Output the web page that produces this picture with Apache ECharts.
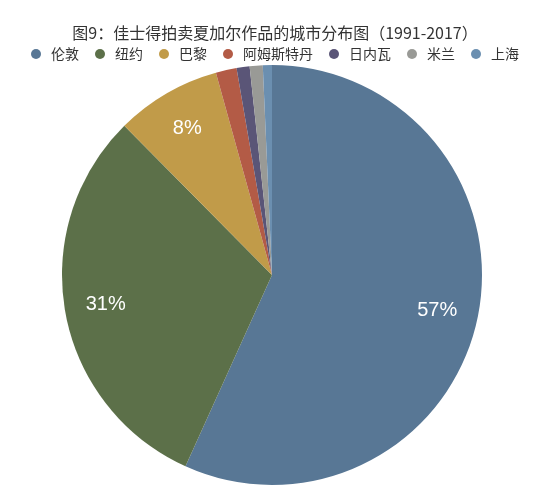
<!DOCTYPE html>
<html>
<head>
<meta charset="utf-8">
<script src="https://cdn.jsdelivr.net/npm/echarts@6/dist/echarts.min.js"></script>
<style>
html,body{margin:0;padding:0;background:#fff;}
#c{width:550px;height:504px;}
</style>
</head>
<body>
<div id="c"></div>
<script>
var titleText = '图9：佳士得拍卖夏加尔作品的城市分布图（1991-2017）';
var cities = ['伦敦','纽约','巴黎','阿姆斯特丹','日内瓦','米兰','上海'];
var shares = [56.7, 30.8, 8.1, 1.6, 1.0, 1.0, 0.7];
var colors = ['#587795','#5c7049','#c19b49','#b35b46','#5a5577','#999a96','#6b8fb0'];

var data = cities.map(function(n, i){ return {name: n, value: shares[i]}; });
var chart = echarts.init(document.getElementById('c'));
chart.setOption({
  animation: false,
  color: colors,
  title: {
    text: titleText,
    left: 'center',
    top: 20,
    textStyle: {fontFamily: 'Noto Sans CJK SC', fontSize: 16, fontWeight: 'normal', color: '#333'}
  },
  legend: {
    top: 47,
    left: 'center',
    padding: 0,
    icon: 'circle',
    itemWidth: 10,
    itemHeight: 10,
    itemGap: 16,
    textStyle: {fontFamily: 'Noto Sans CJK SC', fontSize: 14, color: '#333', padding: [0, 0, 0, 5]}
  },
  series: [
    {
      type: 'pie',
      center: [272, 275],
      radius: [0, 210],
      startAngle: 90,
      clockwise: true,
      data: data,
      label: {show: false},
      labelLine: {show: false},
      itemStyle: {borderWidth: 0},
      emphasis: {disabled: true}
    },
    {
      type: 'pie',
      center: [272, 275],
      radius: [122, 210],
      startAngle: 90,
      clockwise: true,
      silent: true,
      data: data,
      itemStyle: {color: 'rgba(0,0,0,0)', borderWidth: 0},
      labelLine: {show: false},
      label: {
        show: true,
        position: 'inside',
        fontFamily: 'Liberation Sans',
        fontSize: 20,
        color: '#fff',
        formatter: function(p){ return p.percent > 5 ? Math.round(p.percent) + '%' : ''; }
      },
      emphasis: {disabled: true}
    }
  ]
});
</script>
</body>
</html>
